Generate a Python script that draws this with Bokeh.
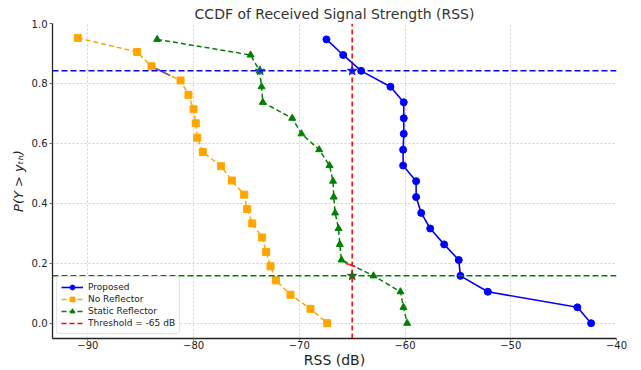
from bokeh.plotting import figure
from bokeh.models import Span, Range1d, Legend, LegendItem
from bokeh.embed import file_html
from bokeh.resources import INLINE

# ---- data ----
prop_x = [-67.43, -65.85, -64.15, -61.38, -60.12, -60.12, -60.12, -60.18, -60.18, -58.95,
          -58.95, -58.47, -57.62, -56.30, -54.92, -54.76, -52.17, -43.70, -42.40]
prop_y = [0.947, 0.895, 0.842, 0.789, 0.737, 0.684, 0.632, 0.579, 0.526, 0.474,
          0.421, 0.368, 0.316, 0.263, 0.211, 0.158, 0.105, 0.053, 0.0]

norefl_x = [-90.95, -85.33, -83.98, -81.23, -80.48, -80.00, -79.79, -79.65, -79.13, -77.39,
            -76.38, -75.21, -74.93, -74.45, -73.51, -73.13, -72.72, -72.22, -70.83, -68.94, -67.36]
norefl_y = [0.952, 0.905, 0.857, 0.810, 0.762, 0.714, 0.667, 0.619, 0.571, 0.524,
            0.476, 0.429, 0.381, 0.333, 0.286, 0.238, 0.190, 0.143, 0.095, 0.048, 0.0]

static_x = [-83.44, -74.61, -73.76, -73.57, -73.45, -70.67, -69.79, -68.12, -67.14, -66.81,
            -66.74, -66.61, -66.29, -66.17, -66.01, -62.98, -60.43, -60.15, -59.80]
static_y = [0.947, 0.895, 0.842, 0.789, 0.737, 0.684, 0.632, 0.579, 0.526, 0.474,
            0.421, 0.368, 0.316, 0.263, 0.211, 0.158, 0.105, 0.053, 0.0]

threshold = -65.0
prop_level = 0.842
static_level = 0.158

star_x = [-65.0, -73.70, -65.0]
star_y = [0.842, 0.842, 0.158]
star_c = ["#1a1aff", "#21597a", "#3b5a22"]

seg_x0 = [-83.60, -65.63]
seg_y0 = [0.850, 0.200]
seg_x1 = [-82.20, -64.69]
seg_y1 = [0.826, 0.188]
seg_c = ["#7d4a9e", "#ff2020"]

x_ticks = [-90, -80, -70, -60, -50, -40]
y_ticks = [0.0, 0.2, 0.4, 0.6, 0.8, 1.0]

FONT = "DejaVu Sans"
X_LO, X_HI = -93.34, -40.0
Y_LO, Y_HI = -0.051, 1.0

p = figure(width=636, height=370, output_backend="svg", toolbar_location=None,
           x_range=Range1d(X_LO, X_HI), y_range=Range1d(Y_LO, Y_HI),
           min_border_left=52, min_border_right=20, min_border_top=23, min_border_bottom=30,
           title="CCDF of Received Signal Strength (RSS)")
p.outline_line_color = None
p.background_fill_color = "white"

p.title.text_font = FONT
p.title.text_font_size = "14px"
p.title.text_font_style = "normal"
p.title.text_color = "#333333"
p.title.align = "center"
p.title.standoff = 3
p.title.offset = 0

for ax in (p.xaxis, p.yaxis):
    ax.axis_line_color = "#222222"
    ax.axis_line_width = 1.3
    ax.major_tick_line_color = "#666666"
    ax.major_tick_in = 0
    ax.major_tick_out = 3
    ax.minor_tick_line_color = None
    ax.major_label_text_font = FONT
    ax.major_label_text_font_size = "10px"
    ax.major_label_text_color = "#222222"
    ax.axis_label_text_font = FONT
    ax.axis_label_text_font_style = "normal"
    ax.axis_label_text_color = "#222222"

p.xaxis.ticker = x_ticks
p.yaxis.ticker = y_ticks
p.xaxis.major_label_overrides = {t: ("\u2212" + str(abs(t))) for t in x_ticks}
p.yaxis.major_label_overrides = {t: f"{t:.1f}" for t in y_ticks}
p.xaxis.major_tick_out = 2
p.xaxis.major_label_standoff = 0
p.yaxis.major_label_standoff = 2

p.xaxis.axis_label = "RSS (dB)"
p.xaxis.axis_label_text_font_size = "14px"
p.xaxis.axis_label_standoff = 0

p.yaxis.axis_label = "P(Y > y\u209c\u2095)"
p.yaxis.axis_label_text_font_style = "italic"
p.yaxis.axis_label_text_font_size = "13px"
p.yaxis.axis_label_standoff = 3

p.grid.grid_line_color = "#c4c4c4"
p.grid.grid_line_dash = "2 2"
p.grid.grid_line_width = 0.8

# reference lines
p.add_layout(Span(location=prop_level, dimension="width", line_color="blue",
                  line_dash="6 3", line_width=1.5))
p.add_layout(Span(location=static_level, dimension="width", line_color="green",
                  line_dash="6 3", line_width=1.5))
r4 = p.segment(x0=threshold, y0=Y_LO, x1=threshold, y1=Y_HI, line_color="red",
               line_dash="5 3", line_width=1.5)

# series
r1l = p.line(prop_x, prop_y, line_color="blue", line_width=1.6)
r1s = p.scatter(prop_x, prop_y, marker="circle", size=7, fill_color="blue", line_color="blue")

r2l = p.line(norefl_x, norefl_y, line_color="orange", line_width=1.5, line_dash="5 3")
r2s = p.scatter(norefl_x, norefl_y, marker="square", size=7, fill_color="orange", line_color="orange")

r3l = p.line(static_x, static_y, line_color="green", line_width=1.5, line_dash="5 3")
r3s = p.scatter(static_x, static_y, marker="triangle", size=7, fill_color="green", line_color="green")

p.segment(x0=seg_x0, y0=seg_y0, x1=seg_x1, y1=seg_y1, line_color=seg_c, line_width=1.6)
p.scatter(star_x, star_y, marker="star", size=10, fill_color=star_c, line_color=star_c)

legend = Legend(items=[
    LegendItem(label="Proposed", renderers=[r1l, r1s]),
    LegendItem(label="No Reflector", renderers=[r2l, r2s]),
    LegendItem(label="Static Reflector", renderers=[r3l, r3s]),
    LegendItem(label="Threshold = -65 dB", renderers=[r4]),
], location="bottom_left")
legend.margin = 4
legend.padding = 4
legend.spacing = 0
legend.label_height = 12
legend.glyph_height = 12
legend.glyph_width = 22
legend.label_standoff = 5
legend.label_text_font = FONT
legend.label_text_font_size = "9px"
legend.label_text_color = "#222222"
legend.border_line_color = "#cccccc"
legend.border_line_width = 1
legend.border_radius = 3
legend.background_fill_alpha = 0.85
p.add_layout(legend)

open("out.html", "w").write(file_html(p, INLINE))
